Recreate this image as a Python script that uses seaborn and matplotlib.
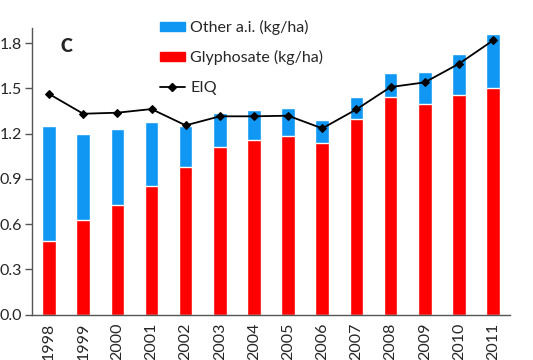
import matplotlib
matplotlib.use("Agg")
import numpy as np
import pandas as pd
import matplotlib.pyplot as plt
import seaborn as sns
from matplotlib.patches import Patch
from matplotlib.lines import Line2D

# values (kg/ha)
years = ["1998", "1999", "2000", "2001", "2002", "2003", "2004",
         "2005", "2006", "2007", "2008", "2009", "2010", "2011"]
glyphosate = [0.49, 0.63, 0.73, 0.855, 0.98, 1.11, 1.16,
              1.185, 1.135, 1.30, 1.44, 1.395, 1.455, 1.50]
other_ai = [0.76, 0.567, 0.50, 0.424, 0.27, 0.229, 0.197,
            0.183, 0.157, 0.141, 0.16, 0.215, 0.273, 0.362]
eiq = [1.463, 1.332, 1.339, 1.363, 1.255, 1.315, 1.315,
       1.319, 1.235, 1.361, 1.509, 1.54, 1.663, 1.818]
yticks = [0.0, 0.3, 0.6, 0.9, 1.2, 1.5, 1.8]

blue = "#0F97F3"
red = "#FF0000"

df = pd.DataFrame({"Year": years, "Glyphosate": glyphosate, "Other": other_ai, "EIQ": eiq})
df["Total"] = df["Glyphosate"] + df["Other"]

sns.set_style("white")
plt.rcParams["font.family"] = ["Lato", "DejaVu Sans"]

fig = plt.figure(figsize=(5.33, 3.6), dpi=100)
ax = fig.add_axes([0.06, 0.126, 0.897, 0.796])

# stacked bars: total in blue, glyphosate in red over it
sns.barplot(data=df, x="Year", y="Total", color=blue, width=0.4, saturation=1, ax=ax)
sns.barplot(data=df, x="Year", y="Glyphosate", color=red, width=0.4, saturation=1, ax=ax)
sns.lineplot(x=np.arange(len(years)), y=df["EIQ"], color="black", marker="D",
             markersize=4.5, linewidth=1.3, markeredgecolor="black", ax=ax)

ax.set_xlim(-0.5, len(years) - 0.5)
ax.set_ylim(0, 1.9)
ax.set_yticks(yticks)
ax.set_yticklabels([f"{v:.1f}" for v in yticks], fontsize=11.5)
ax.set_xticks(np.arange(len(years)))
ax.set_xticklabels(years, rotation=90, fontsize=11.5)
ax.set_xlabel("")
ax.set_ylabel("")

# x ticks sit between the bars
ax.tick_params(axis="x", which="major", length=0, pad=6)
ax.set_xticks(np.arange(len(years) + 1) - 0.5, minor=True)
ax.tick_params(axis="x", which="minor", length=5, width=1, color="#555555", direction="out")
ax.tick_params(axis="y", length=5, width=1, color="#555555", direction="out", left=True, pad=2)

sns.despine(ax=ax)
for s in ["left", "bottom"]:
    ax.spines[s].set_color("#555555")
    ax.spines[s].set_linewidth(1)

ax.text(0.5, 1.775, "C", fontsize=13, fontweight="heavy", ha="center", va="center")

handles = [Patch(color=blue, label="Other a.i. (kg/ha)"),
           Patch(color=red, label="Glyphosate (kg/ha)"),
           Line2D([], [], color="black", marker="D", markersize=4, linewidth=1.3, label="EIQ")]
ax.legend(handles=handles, loc="upper left", bbox_to_anchor=(0.237, 1.078),
          frameon=False, fontsize=11.5, labelspacing=0.95, handlelength=1.6,
          handleheight=0.45, handletextpad=0.3)

fig.savefig("out.png", dpi=100)
